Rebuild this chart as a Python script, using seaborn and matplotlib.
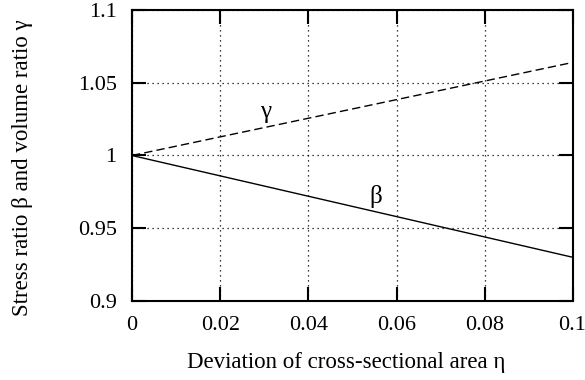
import matplotlib
matplotlib.use("Agg")
import matplotlib.pyplot as plt
import matplotlib.transforms as mtrans
import seaborn as sns
import pandas as pd

eta = [0.0, 0.05, 0.1]
beta = [1.0, 0.965, 0.930]
gamma = [1.0, 1.032, 1.064]
xticks = [0, 0.02, 0.04, 0.06, 0.08, 0.1]
xticklabels = ["0", "0.02", "0.04", "0.06", "0.08", "0.1"]
yticks = [0.9, 0.95, 1.0, 1.05, 1.1]
yticklabels = ["0.9", "0.95", "1", "1.05", "1.1"]

sns.set_theme(style="ticks")
plt.rcParams['font.family'] = ['Liberation Serif', 'DejaVu Serif']
plt.rcParams.update({"text.color": "black", "axes.labelcolor": "black",
                     "xtick.color": "black", "ytick.color": "black"})

df = pd.DataFrame({"eta": eta * 2, "val": beta + gamma,
                   "series": ["beta"] * len(eta) + ["gamma"] * len(eta)})

fig = plt.figure(figsize=(5.85, 3.8), dpi=100)
ax = fig.add_axes([0.2256, 0.2079, 0.9795 - 0.2256, 0.9737 - 0.2079])

sns.lineplot(data=df, x="eta", y="val", style="series",
             dashes={"beta": "", "gamma": (6, 3)}, color="black",
             linewidth=1.0, legend=False, ax=ax)

ax.set_xlim(0, 0.1)
ax.set_ylim(0.9, 1.1)
ax.set_xticks(xticks)
ax.set_xticklabels(xticklabels)
ax.set_yticks(yticks)
ax.set_yticklabels(yticklabels)
ax.grid(True, linestyle=(0, (1, 3)), color="black", linewidth=0.9)
for s in ax.spines.values():
    s.set_visible(True)
    s.set_linewidth(1.5)
    s.set_color("black")
ax.tick_params(direction="in", length=10, width=1.5, top=True, right=True,
               labelsize=16, colors="black")
ax.tick_params(axis="x", pad=11)
ax.tick_params(axis="y", pad=11)

ax.set_xlabel("Deviation of cross-sectional area η", fontsize=16.5)
ax.set_ylabel("Stress ratio β and volume ratio γ", fontsize=16.5)
ax.xaxis.set_label_coords(0.486, -0.175)
ax.yaxis.set_label_coords(-0.225, 0.457)

ax.text(0.0302, 1.030, "γ", fontsize=18, ha="center", va="center")
ax.text(0.0552, 0.9715, "β", fontsize=18, ha="center", va="center")

last = ax.get_xticklabels()[-1]
last.set_horizontalalignment("right")
last.set_transform(last.get_transform() +
                   mtrans.ScaledTranslation(13 / 100, 0, fig.dpi_scale_trans))

fig.savefig("out.png", dpi=100)
